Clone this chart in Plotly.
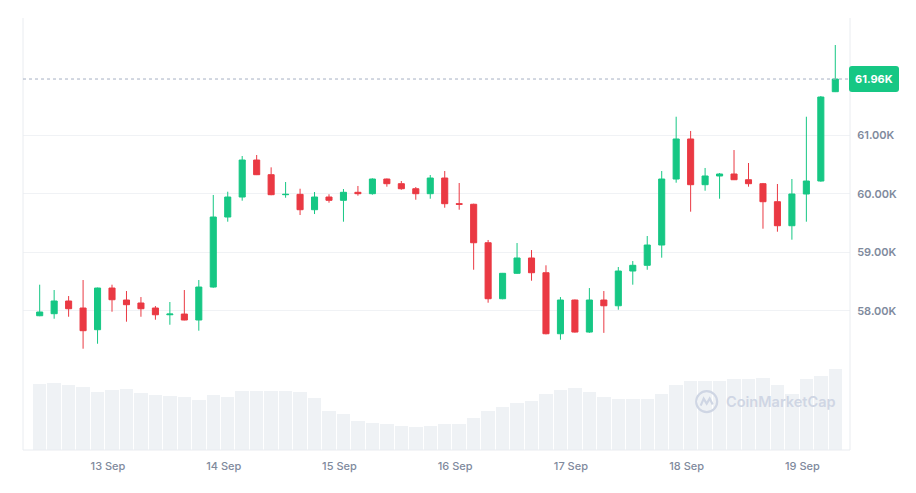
import pandas as pd
import plotly.graph_objects as go

# ---- data (3-hour candles, BTC/USD) ----
start_time = "2024-09-12 09:50"
open_ = [57913, 57948, 58165, 58045, 57674, 58387, 58182, 58131, 58045, 57930,
         57942, 57840, 58404, 59602, 59944, 60577, 60326, 59984, 59990, 59727,
         59944, 59888, 60025, 60001, 60252, 60172, 60086, 60001, 60269, 59830,
         59820, 59162, 58204, 58639, 58901, 58649, 57605, 58182, 57634, 58182,
         58084, 58678, 58776, 59123, 60252, 60937, 60155, 60304, 60338, 60240,
         60172, 59864, 59453, 59996, 60218, 61746]
high = [58444, 58353, 58250, 58524, 58395, 58444, 58336, 58233, 58079, 58148,
        58353, 58524, 59979, 60035, 60646, 60663, 60452, 60201, 60086, 60030,
        59991, 60081, 60133, 60264, 60260, 60218, 60115, 60321, 60389, 60184,
        59830, 59209, 58645, 59157, 59037, 58776, 58233, 58190, 58387, 58336,
        58747, 58849, 59277, 60389, 61318, 61074, 60441, 60355, 60748, 60526,
        60185, 60167, 60252, 61318, 61672, 62545]
low = [57905, 57862, 57896, 57349, 57434, 57982, 57811, 57896, 57845, 57759,
       57835, 57657, 58392, 59522, 59881, 60320, 59975, 59932, 59636, 59653,
       59847, 59522, 59967, 59984, 60121, 60069, 59898, 59915, 59761, 59727,
       58700, 58136, 58195, 58630, 58512, 57595, 57503, 57625, 57620, 57620,
       58016, 58444, 58700, 58906, 60189, 59693, 60052, 59915, 60235, 60121,
       59402, 59351, 59214, 59522, 60206, 61740]
close = [57977, 58165, 58033, 57657, 58387, 58187, 58102, 58033, 57930, 57942,
         57840, 58404, 59602, 59944, 60577, 60326, 59984, 59990, 59727, 59944,
         59888, 60025, 60001, 60252, 60172, 60086, 60001, 60269, 59830, 59820,
         59162, 58204, 58639, 58901, 58649, 57605, 58182, 57634, 58182, 58084,
         58678, 58776, 59123, 60252, 60937, 60155, 60304, 60338, 60240, 60172,
         59864, 59453, 59996, 60218, 61655, 61963]
volume = [29.7, 30.2, 29.3, 28.4, 26.1, 27.0, 27.5, 25.7, 24.8, 24.3,
          23.9, 22.5, 24.8, 23.9, 26.6, 26.6, 26.6, 26.6, 26.1, 23.4,
          17.6, 16.2, 13.1, 12.2, 11.7, 10.8, 10.4, 10.8, 11.7, 11.7,
          14.3, 17.6, 19.4, 21.2, 22.1, 25.2, 27.0, 27.9, 26.1, 23.9,
          23.0, 23.0, 23.0, 25.2, 29.3, 31.1, 31.1, 31.1, 32.0, 32.0,
          32.4, 29.3, 25.2, 32.0, 33.3, 36.5]
price_ticks = [58000, 59000, 60000, 61000]
price_tick_labels = ["58.00K", "59.00K", "60.00K", "61.00K"]
last_price = close[-1]
last_price_label = "61.96K"

times = pd.date_range(start_time, periods=len(open_), freq="3h")

GREEN = "#16c784"
RED = "#ea3943"
GRAY_TXT = "#808a9d"
LINE = "#e9ecf0"
WM = "#cfd6e4"

fig = go.Figure()

fig.add_trace(go.Bar(
    x=times, y=volume, yaxis="y",
    width=3 * 3600000 * 0.93,
    marker=dict(color="#eff2f5", line=dict(width=0)),
    hoverinfo="skip", showlegend=False,
))

fig.add_trace(go.Candlestick(
    x=times, open=open_, high=high, low=low, close=close, yaxis="y2",
    increasing=dict(line=dict(color=GREEN, width=1), fillcolor=GREEN),
    decreasing=dict(line=dict(color=RED, width=1), fillcolor=RED),
    showlegend=False,
))

x_left = times[0] - pd.Timedelta(hours=3.46)
x_right = times[-1] + pd.Timedelta(hours=3.05)

fig.update_layout(
    width=916, height=493,
    margin=dict(l=23, r=66, t=18, b=43),
    paper_bgcolor="white", plot_bgcolor="white",
    font=dict(family="Inter, sans-serif", color=GRAY_TXT),
    boxgap=0.4,
    bargap=0,
    xaxis=dict(
        type="date", range=[x_left, x_right],
        showgrid=False, zeroline=False, showline=False,
        rangeslider=dict(visible=False),
        tickformat="%-d %b", dtick=86400000, tick0="2024-09-13",
        ticks="outside", ticklen=6, tickcolor="rgba(0,0,0,0)",
        tickfont=dict(size=11, color=GRAY_TXT, weight=500),
    ),
    yaxis=dict(range=[0, 194.4], visible=False, showgrid=False, fixedrange=True),
    yaxis2=dict(
        overlaying="y", side="right",
        range=[55616, 63007],
        tickvals=price_ticks, ticktext=price_tick_labels,
        showgrid=True, gridcolor="#f0f2f5", gridwidth=1,
        zeroline=False, showline=False,
        ticks="outside", ticklen=4, tickcolor="rgba(0,0,0,0)",
        tickfont=dict(size=11, color=GRAY_TXT, weight=600),
    ),
    hovermode=False,
)

shapes = [
    # plot borders
    dict(type="line", xref="paper", yref="paper", x0=0, x1=0, y0=0, y1=1,
         line=dict(color=LINE, width=1)),
    dict(type="line", xref="paper", yref="paper", x0=1, x1=1, y0=0, y1=1,
         line=dict(color=LINE, width=1)),
    dict(type="line", xref="paper", yref="paper", x0=0, x1=1, y0=0, y1=0,
         line=dict(color=LINE, width=1)),
    # last price dotted line
    dict(type="line", xref="paper", yref="y2", x0=0, x1=1,
         y0=last_price, y1=last_price,
         line=dict(color="#a6b0c3", width=1, dash="dot")),
    # last price label background (rounded)
    dict(type="path", xref="paper", yref="y2",
         xsizemode="pixel", ysizemode="pixel", xanchor=1, yanchor=last_price,
         path="M 2,-13 L 46,-13 Q 49,-13 49,-10 L 49,10 Q 49,13 46,13 "
              "L 2,13 Q -1,13 -1,10 L -1,-10 Q -1,-13 2,-13 Z",
         fillcolor=GREEN, line=dict(width=0)),
    # watermark logo
    dict(type="circle", xref="paper", yref="paper",
         xsizemode="pixel", ysizemode="pixel", xanchor=0.8267, yanchor=0.112,
         x0=-10.5, x1=10.5, y0=-10.5, y1=10.5,
         line=dict(color=WM, width=2.2)),
    dict(type="path", xref="paper", yref="paper",
         xsizemode="pixel", ysizemode="pixel", xanchor=0.8267, yanchor=0.112,
         path="M -6,-4 L -3,3 L 0,-2 L 3,3 L 6,-3",
         line=dict(color=WM, width=2.2)),
]
fig.update_layout(shapes=shapes)

fig.add_annotation(
    xref="paper", yref="y2", x=1, y=last_price, xanchor="center", xshift=24,
    yanchor="middle", text=last_price_label, showarrow=False,
    font=dict(size=11, color="white", weight=700),
)
fig.add_annotation(
    xref="paper", yref="paper", x=0.848, y=0.112, xanchor="left",
    yanchor="middle", text="CoinMarketCap", showarrow=False,
    font=dict(size=14.5, color=WM, weight=600),
)

fig.write_html("out.html")
